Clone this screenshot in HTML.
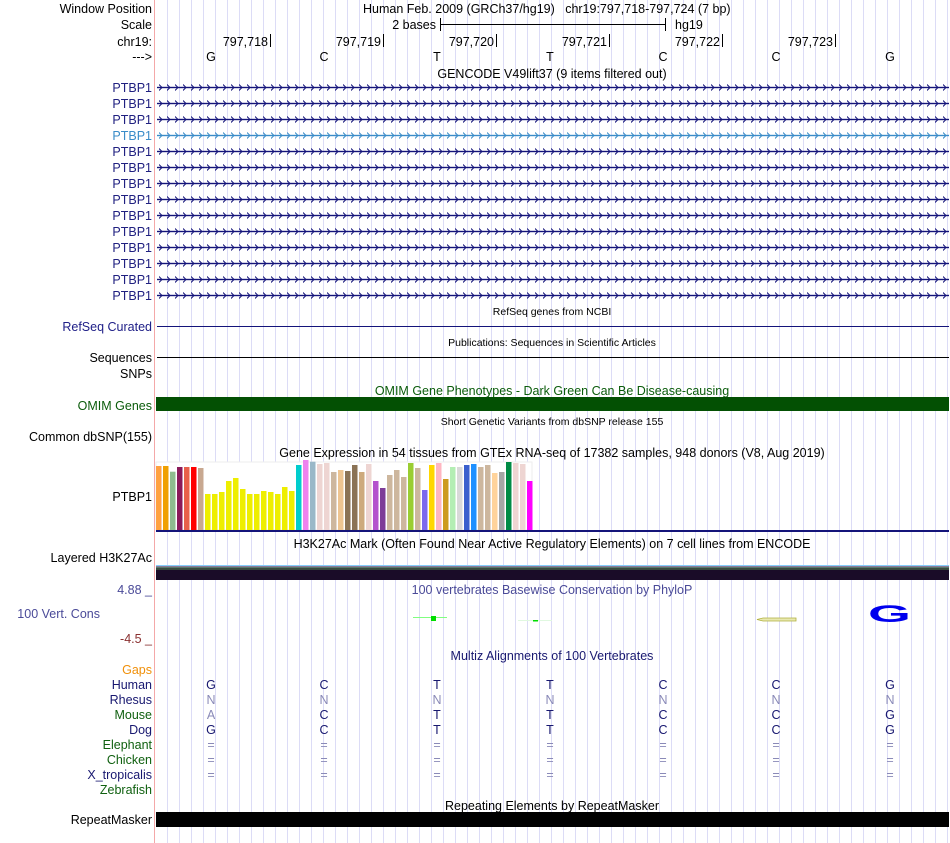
<!DOCTYPE html>
<html><head><meta charset="utf-8"><style>
html,body{margin:0;padding:0;background:#fff;width:950px;height:843px;overflow:hidden}
svg{display:block;font-family:"Liberation Sans",sans-serif}
</style></head><body>
<svg width="950" height="843" viewBox="0 0 950 843" xmlns="http://www.w3.org/2000/svg">
<defs>
<pattern id="grid" x="167" y="0" width="12" height="843" patternUnits="userSpaceOnUse">
<rect x="0" y="0" width="1" height="843" fill="#dcdcf6"/>
</pattern>
<pattern id="gene" x="159" y="79" width="8" height="16" patternUnits="userSpaceOnUse">
<rect x="0" y="7.8" width="8" height="1.4" fill="#14147a"/>
<path d="M0 5.5 L3 8.5 L0 11.5" fill="none" stroke="#14147a" stroke-width="1"/>
</pattern>
<pattern id="gene2" x="159" y="79" width="8" height="16" patternUnits="userSpaceOnUse">
<rect x="0" y="7.8" width="8" height="1.4" fill="#3a8cc8"/>
<path d="M0 5.5 L3 8.5 L0 11.5" fill="none" stroke="#3a8cc8" stroke-width="1"/>
</pattern>
</defs>
<rect x="167" y="0" width="783" height="843" fill="url(#grid)"/>
<line x1="154.5" y1="0" x2="154.5" y2="843" stroke="#f4a8a8" stroke-width="1"/>

<g font-size="12.5" text-anchor="end" fill="#000">
<text x="152" y="13">Window Position</text>
<text x="152" y="29">Scale</text>
<text x="152" y="46">chr19:</text>
<text x="152" y="61">---&gt;</text>
</g>
<g font-size="12.5" fill="#000">
<text x="363" y="13" xml:space="preserve">Human Feb. 2009 (GRCh37/hg19)   chr19:797,718-797,724 (7 bp)</text>
<text x="436" y="29" text-anchor="end">2 bases</text>
<text x="675" y="29">hg19</text>
<text x="268" y="46" text-anchor="end">797,718</text>
<text x="381" y="46" text-anchor="end">797,719</text>
<text x="494" y="46" text-anchor="end">797,720</text>
<text x="607" y="46" text-anchor="end">797,721</text>
<text x="720" y="46" text-anchor="end">797,722</text>
<text x="833" y="46" text-anchor="end">797,723</text>
<text text-anchor="middle" x="211 324 437 550 663 776 890" y="61">GCTTCCG</text>
<text text-anchor="middle" x="552" y="78">GENCODE V49lift37 (9 items filtered out)</text>
</g>
<g stroke="#000" stroke-width="1">
<line x1="440" y1="24.5" x2="665" y2="24.5"/>
<line x1="440.5" y1="18" x2="440.5" y2="31"/>
<line x1="665.5" y1="18" x2="665.5" y2="31"/>
<line x1="270.5" y1="34" x2="270.5" y2="47"/>
<line x1="383.5" y1="34" x2="383.5" y2="47"/>
<line x1="496.5" y1="34" x2="496.5" y2="47"/>
<line x1="609.5" y1="34" x2="609.5" y2="47"/>
<line x1="722.5" y1="34" x2="722.5" y2="47"/>
<line x1="835.5" y1="34" x2="835.5" y2="47"/>
</g>

<rect x="157" y="79" width="792" height="224" fill="url(#gene)"/>
<rect x="157" y="127" width="792" height="16" fill="#fff"/>
<rect x="157" y="127" width="792" height="16" fill="url(#grid)"/>
<rect x="157" y="127" width="792" height="16" fill="url(#gene2)"/>
<g font-size="12.5" text-anchor="end" fill="#202080">
<text x="152" y="92">PTBP1</text>
<text x="152" y="108">PTBP1</text>
<text x="152" y="124">PTBP1</text>
<text x="152" y="140" fill="#3a8cc8">PTBP1</text>
<text x="152" y="156">PTBP1</text>
<text x="152" y="172">PTBP1</text>
<text x="152" y="188">PTBP1</text>
<text x="152" y="204">PTBP1</text>
<text x="152" y="220">PTBP1</text>
<text x="152" y="236">PTBP1</text>
<text x="152" y="252">PTBP1</text>
<text x="152" y="268">PTBP1</text>
<text x="152" y="284">PTBP1</text>
<text x="152" y="300">PTBP1</text>
</g>

<g font-size="12.5" text-anchor="end">
<text x="152" y="331" fill="#202088">RefSeq Curated</text>
<text x="152" y="362" fill="#000">Sequences</text>
<text x="152" y="378" fill="#000">SNPs</text>
<text x="152" y="410" fill="#0b5c0b">OMIM Genes</text>
<text x="152" y="441" fill="#000">Common dbSNP(155)</text>
<text x="152" y="501" fill="#000">PTBP1</text>
<text x="152" y="562" fill="#000">Layered H3K27Ac</text>
<text x="152" y="594" fill="#4a4a98">4.88 _</text>
<text x="100" y="618" fill="#4a4a98">100 Vert. Cons</text>
<text x="152" y="643" fill="#8a3030">-4.5 _</text>
<text x="152" y="674" fill="#f0900a">Gaps</text>
<text x="152" y="689" fill="#181870">Human</text>
<text x="152" y="704" fill="#181870">Rhesus</text>
<text x="152" y="719" fill="#106010">Mouse</text>
<text x="152" y="734" fill="#181870">Dog</text>
<text x="152" y="749" fill="#106010">Elephant</text>
<text x="152" y="764" fill="#106010">Chicken</text>
<text x="152" y="779" fill="#181870">X_tropicalis</text>
<text x="152" y="794" fill="#106010">Zebrafish</text>
<text x="152" y="824" fill="#000">RepeatMasker</text>
</g>
<g text-anchor="middle">
<text x="552" y="315" font-size="10.5">RefSeq genes from NCBI</text>
<text x="552" y="346" font-size="10.5">Publications: Sequences in Scientific Articles</text>
<text x="552" y="395" font-size="12.5" fill="#0b5c0b">OMIM Gene Phenotypes - Dark Green Can Be Disease-causing</text>
<text x="552" y="425" font-size="10.5">Short Genetic Variants from dbSNP release 155</text>
<text x="552" y="457" font-size="12.5">Gene Expression in 54 tissues from GTEx RNA-seq of 17382 samples, 948 donors (V8, Aug 2019)</text>
<text x="552" y="548" font-size="12.5">H3K27Ac Mark (Often Found Near Active Regulatory Elements) on 7 cell lines from ENCODE</text>
<text x="552" y="594" font-size="12.5" fill="#4a4a98">100 vertebrates Basewise Conservation by PhyloP</text>
<text x="552" y="660" font-size="12.5" fill="#181870">Multiz Alignments of 100 Vertebrates</text>
<text x="552" y="810" font-size="12.5">Repeating Elements by RepeatMasker</text>
</g>
<line x1="157" y1="326.5" x2="949" y2="326.5" stroke="#14147a"/>
<line x1="157" y1="357.5" x2="949" y2="357.5" stroke="#000"/>
<rect x="156" y="397" width="793" height="14" fill="#035003"/>

<rect x="156" y="462" width="376" height="68" fill="#fff" stroke="#eee"/>
<g>
<rect x="156" y="466" width="5.5" height="64" fill="#ffa040"/>
<rect x="163" y="466" width="5.5" height="64" fill="#f0a000"/>
<rect x="170" y="471.7" width="5.5" height="58.3" fill="#8fbc8f"/>
<rect x="177" y="467" width="5.5" height="63" fill="#8b1a5a"/>
<rect x="184" y="467" width="5.5" height="63" fill="#e8604a"/>
<rect x="191" y="467" width="5.5" height="63" fill="#ff0000"/>
<rect x="198" y="468" width="5.5" height="62" fill="#c8a890"/>
<rect x="205" y="494" width="5.5" height="36" fill="#eeee00"/>
<rect x="212" y="494" width="5.5" height="36" fill="#eeee00"/>
<rect x="219" y="492" width="5.5" height="38" fill="#eeee00"/>
<rect x="226" y="481" width="5.5" height="49" fill="#eeee00"/>
<rect x="233" y="478" width="5.5" height="52" fill="#eeee00"/>
<rect x="240" y="489" width="5.5" height="41" fill="#eeee00"/>
<rect x="247" y="494" width="5.5" height="36" fill="#eeee00"/>
<rect x="254" y="494" width="5.5" height="36" fill="#eeee00"/>
<rect x="261" y="491" width="5.5" height="39" fill="#eeee00"/>
<rect x="268" y="492" width="5.5" height="38" fill="#eeee00"/>
<rect x="275" y="494" width="5.5" height="36" fill="#eeee00"/>
<rect x="282" y="487" width="5.5" height="43" fill="#eeee00"/>
<rect x="289" y="491" width="5.5" height="39" fill="#eeee00"/>
<rect x="296" y="465" width="5.5" height="65" fill="#00cdcd"/>
<rect x="303" y="460" width="5.5" height="70" fill="#ee82ee"/>
<rect x="310" y="461.7" width="5.5" height="68.3" fill="#9ab8c8"/>
<rect x="317" y="464" width="5.5" height="66" fill="#eed5d2"/>
<rect x="324" y="463" width="5.5" height="67" fill="#eed5d2"/>
<rect x="331" y="472" width="5.5" height="58" fill="#cdb79e"/>
<rect x="338" y="470" width="5.5" height="60" fill="#eec591"/>
<rect x="345" y="471" width="5.5" height="59" fill="#8b7355"/>
<rect x="352" y="465" width="5.5" height="65" fill="#8b7355"/>
<rect x="359" y="472" width="5.5" height="58" fill="#cdaa7d"/>
<rect x="366" y="464" width="5.5" height="66" fill="#eed5d2"/>
<rect x="373" y="481" width="5.5" height="49" fill="#b452cd"/>
<rect x="380" y="488" width="5.5" height="42" fill="#7d3c98"/>
<rect x="387" y="475" width="5.5" height="55" fill="#cdb79e"/>
<rect x="394" y="470" width="5.5" height="60" fill="#cdb79e"/>
<rect x="401" y="477" width="5.5" height="53" fill="#cdb79e"/>
<rect x="408" y="463" width="5.5" height="67" fill="#9acd32"/>
<rect x="415" y="468" width="5.5" height="62" fill="#cdb79e"/>
<rect x="422" y="490" width="5.5" height="40" fill="#7b68ee"/>
<rect x="429" y="465" width="5.5" height="65" fill="#ffd700"/>
<rect x="436" y="463" width="5.5" height="67" fill="#ffb6c1"/>
<rect x="443" y="479" width="5.5" height="51" fill="#cd9b1d"/>
<rect x="450" y="467" width="5.5" height="63" fill="#b4eeb4"/>
<rect x="457" y="467" width="5.5" height="63" fill="#d9d9d9"/>
<rect x="464" y="465" width="5.5" height="65" fill="#3a5fcd"/>
<rect x="471" y="464" width="5.5" height="66" fill="#1e90ff"/>
<rect x="478" y="467" width="5.5" height="63" fill="#cdb79e"/>
<rect x="485" y="465" width="5.5" height="65" fill="#cdb79e"/>
<rect x="492" y="473" width="5.5" height="57" fill="#ffd39b"/>
<rect x="499" y="472" width="5.5" height="58" fill="#a6a6a6"/>
<rect x="506" y="462" width="5.5" height="68" fill="#008b45"/>
<rect x="513" y="463" width="5.5" height="67" fill="#eed5d2"/>
<rect x="520" y="464" width="5.5" height="66" fill="#eed5d2"/>
<rect x="527" y="481" width="5.5" height="49" fill="#ff00ff"/>
</g>
<rect x="156" y="530" width="793" height="2" fill="#14147a"/>

<rect x="156" y="565" width="793" height="1" fill="#87cefa"/>
<rect x="156" y="566" width="793" height="1" fill="#8a7a9a"/>
<rect x="156" y="567" width="793" height="1" fill="#5a7a6a"/>
<rect x="156" y="568" width="793" height="2" fill="#3a4a40"/>
<rect x="156" y="570" width="793" height="10" fill="#1a0c28"/>

<line x1="413" y1="617.5" x2="447" y2="617.5" stroke="#80ff80"/>
<rect x="431" y="616" width="5" height="5" fill="#00dd00"/>
<line x1="518" y1="620.5" x2="552" y2="620.5" stroke="#e0f8e0"/>
<rect x="533" y="620" width="5" height="1.5" fill="#00dd00"/>
<path d="M757 619.5 L763 618 L796 618 L796 621 L763 621 Z" fill="#e8e8b0" stroke="#b0b040" stroke-width="0.8"/>
<text x="868" y="622" font-size="24" font-weight="bold" fill="#0000ee" transform="translate(868,0) scale(2.3,1) translate(-868,0)">G</text>

<g font-size="12.5" text-anchor="middle">
<text x="211 324 437 550 663 776 890" y="689" fill="#181870">GCTTCCG</text>
<text x="211 324 437 550 663 776 890" y="704" fill="#8a8ab8">NNNNNNN</text>
<text x="211" y="719" fill="#8a8ab8">A</text>
<text x="324 437 550 663 776 890" y="719" fill="#181870">CTTCCG</text>
<text x="211 324 437 550 663 776 890" y="734" fill="#181870">GCTTCCG</text>
<text x="211 324 437 550 663 776 890" y="749" fill="#8a8ab8">=======</text>
<text x="211 324 437 550 663 776 890" y="764" fill="#8a8ab8">=======</text>
<text x="211 324 437 550 663 776 890" y="779" fill="#8a8ab8">=======</text>
</g>
<rect x="156" y="812" width="793" height="15" fill="#000"/>
</svg>
</body></html>
